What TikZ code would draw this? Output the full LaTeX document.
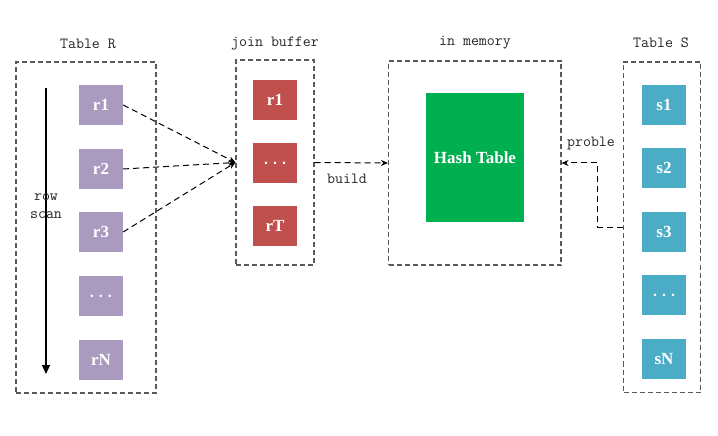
\documentclass[tikz,border=0pt]{standalone}
\usepackage{fontspec}
\usetikzlibrary{arrows.meta}
\newfontfamily\cellfont{Liberation Serif}
\newfontfamily\dotfont{Liberation Mono}
\definecolor{boxgray}{HTML}{595959}
\definecolor{rpurple}{HTML}{A99BC0}
\definecolor{bred}{HTML}{C0504D}
\definecolor{sblue}{HTML}{4BACC6}
\definecolor{hgreen}{HTML}{00B050}
\definecolor{txt}{HTML}{262626}
\begin{document}
\begin{tikzpicture}[x=1bp,y=-1bp,
  group/.style={draw=boxgray, line width=1.1bp, dash pattern=on 5bp off 3bp, inner sep=0pt, fill=none},
  cell/.style={minimum width=44bp, minimum height=40bp, inner sep=0pt, text=white, font=\fontsize{17bp}{20bp}\selectfont\cellfont\bfseries},
  dots/.style={font=\fontsize{15bp}{18bp}\selectfont\dotfont\bfseries},
  rcell/.style={cell, fill=rpurple},
  bcell/.style={cell, fill=bred},
  scell/.style={cell, fill=sblue},
  title/.style={text=txt, inner sep=0pt, font=\fontsize{15.5bp}{18bp}\selectfont\ttfamily},
  flow/.style={draw=black, line width=1bp, dash pattern=on 6bp off 4bp, -{Stealth[length=7bp,width=6bp]}}
]
\useasboundingbox (0,0) rectangle (718,436);

% groups
\node[group, minimum width=140bp, minimum height=331bp] (TR) at (86,227.5) {};
\node[group, minimum width=78bp, minimum height=205bp] (JB) at (275,162.5) {};
\node[group, minimum width=172.5bp, minimum height=204bp] (MEM) at (474.75,163) {};
\node[group, minimum width=77bp, minimum height=330.5bp] (TS) at (662,227.25) {};

% titles
\node[title] (tR) at (88,44) {Table R};
\node[title] (tJ) at (275,43) {join buffer};
\node[title] (tM) at (475,43) {in memory};
\node[title] (tS) at (661,43) {Table S};

% table R cells
\node[rcell] (r1) at (101,105) {r1};
\node[rcell] (r2) at (101,169) {r2};
\node[rcell] (r3) at (101,232) {r3};
\node[rcell, dots] (rd) at (101,296) {...};
\node[rcell] (rN) at (101,360) {rN};

% join buffer cells
\node[bcell] (b1) at (275,100) {r1};
\node[bcell, dots] (bd) at (275,163) {...};
\node[bcell] (bT) at (275,226) {rT};

% hash table
\node[cell, fill=hgreen, minimum width=98bp, minimum height=129bp] (HT) at (475,157.25) {Hash Table};

% table S cells
\node[scell] (s1) at (664,105) {s1};
\node[scell] (s2) at (664,168) {s2};
\node[scell] (s3) at (664,232) {s3};
\node[scell, dots] (sd) at (664,295) {...};
\node[scell] (sN) at (664,359) {sN};

% row scan
\coordinate (scanTop) at (46,88);
\coordinate (scanBot) at (46,374);
\draw[line width=1.2bp, -{Triangle[length=9bp,width=8bp]}] (scanTop) -- (scanBot);
\node[title] (row) at (46,197) {row};
\node[title] (scan) at (46,215) {scan};

% flows into join buffer
\draw[flow] (r1.east) -- (JB.west);
\draw[flow] (r2.east) -- (JB.west);
\draw[flow] (r3.east) -- (JB.west);

% build
\draw[flow] (JB.east) -- (MEM.west);
\node[title] (build) at (347,179) {build};

% probe
\draw[flow] (TS.west) -- ++(-25,0) |- (MEM.east);
\node[title] (probe) at (591,143) {proble};
\end{tikzpicture}
\end{document}
